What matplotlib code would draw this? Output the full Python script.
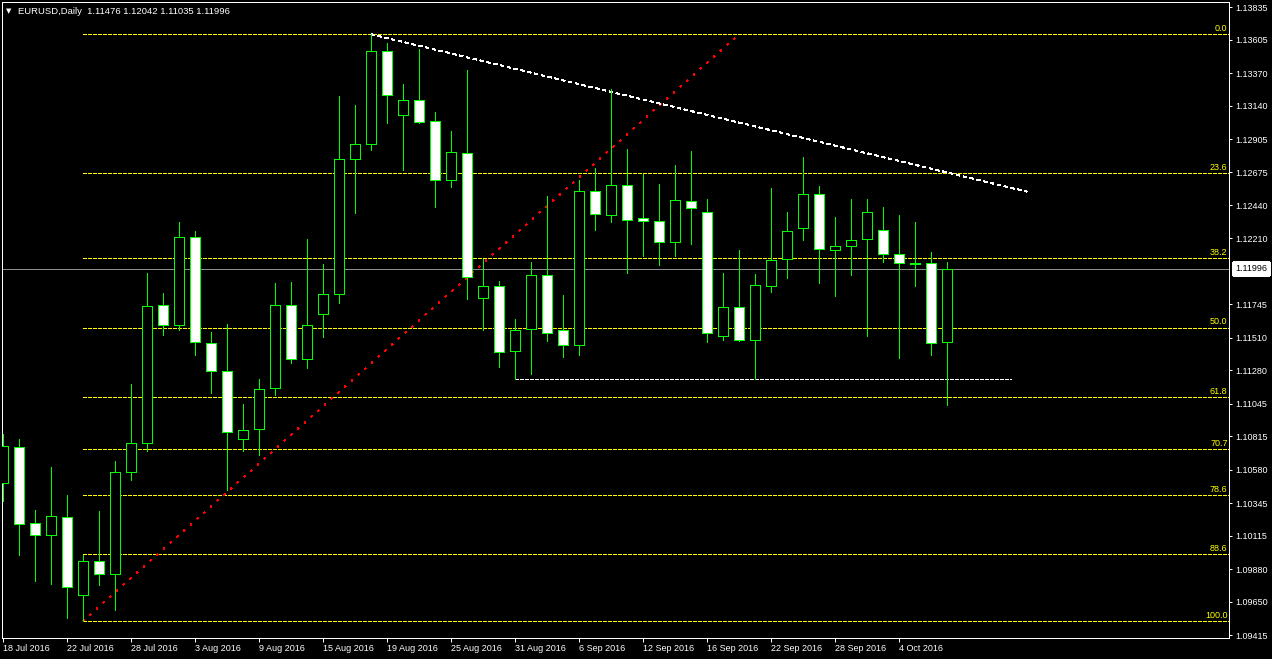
import matplotlib
matplotlib.use('Agg')
import matplotlib.pyplot as plt
import numpy as np
from matplotlib.patches import Rectangle

plt.rcParams['font.family'] = ['Liberation Sans', 'DejaVu Sans']
plt.rcParams['lines.antialiased'] = False
plt.rcParams['patch.antialiased'] = False

# ---------------- data (EURUSD daily, 18 Jul 2016 - 7 Oct 2016) ----------------
opens = [1.10484, 1.10737, 1.10202, 1.10118, 1.10245, 1.09695, 1.09935, 1.09843, 1.10561, 1.10766,
         1.11737, 1.11596, 1.12216, 1.11470, 1.11272, 1.10794, 1.10864, 1.11153, 1.11737, 1.11357,
         1.11674, 1.11815, 1.12765, 1.12871, 1.13525, 1.13075, 1.13180, 1.13032, 1.12617, 1.12807,
         1.11786, 1.11871, 1.11413, 1.11568, 1.11948, 1.11561, 1.11455, 1.12540, 1.12371, 1.12582,
         1.12350, 1.12328, 1.12181, 1.12469, 1.12392, 1.11519, 1.11723, 1.11491, 1.11871, 1.12061,
         1.12279, 1.12519, 1.12124, 1.12152, 1.12202, 1.12265, 1.12096, 1.12033, 1.12033, 1.11476]
highs = [1.10831, 1.10796, 1.10296, 1.10599, 1.10402, 1.09977, 1.10289, 1.10639, 1.11183, 1.11964,
         1.11824, 1.12324, 1.12260, 1.11549, 1.11605, 1.11042, 1.11216, 1.11892, 1.11901, 1.12204,
         1.12028, 1.13211, 1.13147, 1.13645, 1.13584, 1.13295, 1.13541, 1.13098, 1.12964, 1.13394,
         1.12061, 1.11908, 1.11641, 1.12042, 1.12504, 1.11810, 1.12617, 1.12702, 1.13258, 1.12837,
         1.12664, 1.12591, 1.12725, 1.12823, 1.12485, 1.11964, 1.12126, 1.11955, 1.12561, 1.12392,
         1.12779, 1.12575, 1.12357, 1.12483, 1.12483, 1.12427, 1.12371, 1.12324, 1.12110, 1.12042]
lows = [1.10361, 1.09981, 1.09798, 1.09777, 1.09538, 1.09515, 1.09770, 1.09594, 1.10509, 1.10713,
        1.11530, 1.11563, 1.11389, 1.11122, 1.10439, 1.10709, 1.10683, 1.11106, 1.11333, 1.11298,
        1.11516, 1.11755, 1.12389, 1.12828, 1.13023, 1.12692, 1.13018, 1.12431, 1.12572, 1.11784,
        1.11561, 1.11305, 1.11216, 1.11256, 1.11488, 1.11375, 1.11389, 1.12269, 1.12326, 1.11967,
        1.12086, 1.12023, 1.12086, 1.12171, 1.11477, 1.11491, 1.11484, 1.11216, 1.11829, 1.11927,
        1.12195, 1.11892, 1.11800, 1.11948, 1.11519, 1.12040, 1.11364, 1.11876, 1.11385, 1.11035]
closes = [1.10747, 1.10195, 1.10118, 1.10252, 1.09752, 1.09935, 1.09843, 1.10561, 1.10766, 1.11730,
          1.11596, 1.12216, 1.11477, 1.11272, 1.10843, 1.10857, 1.11146, 1.11737, 1.11357, 1.11596,
          1.11815, 1.12765, 1.12871, 1.13525, 1.13215, 1.13180, 1.13025, 1.12617, 1.12814, 1.11934,
          1.11871, 1.11406, 1.11561, 1.11948, 1.11540, 1.11455, 1.12540, 1.12378, 1.12582, 1.12335,
          1.12328, 1.12181, 1.12476, 1.12420, 1.11540, 1.11723, 1.11491, 1.11878, 1.12054, 1.12258,
          1.12519, 1.12131, 1.12152, 1.12195, 1.12392, 1.12096, 1.12033, 1.12030, 1.11470, 1.11996]

x_tick_labels = ["18 Jul 2016", "22 Jul 2016", "28 Jul 2016", "3 Aug 2016", "9 Aug 2016",
                 "15 Aug 2016", "19 Aug 2016", "25 Aug 2016", "31 Aug 2016", "6 Sep 2016",
                 "12 Sep 2016", "16 Sep 2016", "22 Sep 2016", "28 Sep 2016", "4 Oct 2016"]
y_tick_labels = ["1.13835", "1.13605", "1.13370", "1.13140", "1.12905", "1.12675", "1.12440",
                 "1.12210", "1.11745", "1.11510", "1.11280", "1.11045", "1.10815", "1.10580",
                 "1.10345", "1.10115", "1.09880", "1.09650", "1.09415"]

fib_levels = [0.0, 23.6, 38.2, 50.0, 61.8, 70.7, 78.6, 88.6, 100.0]
fib_low, fib_high = 1.09515, 1.13645
fib_bars = [5, 46]
trend_bars = [23, 64]
trend_prices = [1.13645, 1.12537]
support_bars = [32, 63]
support_price = 1.11216
current_price = 1.11996
header = "EURUSD,Daily  1.11476 1.12042 1.11035 1.11996"

# ---------------- figure ----------------
W, H = 1272, 659
fig = plt.figure(figsize=(W / 100, H / 100), dpi=100, facecolor='black')
ax = fig.add_axes([2 / W, 1 - 638 / H, 1227 / W, 636 / H])
ax.set_facecolor('black')
xmin, xmax = (2 - 3) / 16, (1229 - 3) / 16
ax.set_xlim(xmin, xmax)
ax.set_ylim(1.09395, 1.13872)

LIME = '#00ff00'
YEL = '#ffff00'
PX = 0.72  # one pixel in points at 100 dpi

# current price line
ax.axhline(current_price, color='#8c8c8c', lw=PX, zorder=1)

# fibonacci levels
rng = fib_high - fib_low
for lvl in fib_levels:
    p = fib_high - lvl / 100.0 * rng
    ax.plot([fib_bars[0], xmax], [p, p], color=YEL, lw=PX, ls=(0, (4, 2)), zorder=2)
    ax.annotate(f"{lvl:.1f}", xy=(1, p), xycoords=('axes fraction', 'data'),
                xytext=(-1, 0.8), textcoords='offset points', ha='right', va='bottom',
                color=YEL, fontsize=6.5, zorder=6)

# fib diagonal (red dotted)
ax.plot(fib_bars, [fib_low, fib_high], color='#ff0000', lw=PX, ls=(0, (1.5, 7)), zorder=2)

# trendline (white dotted)
ax.plot(trend_bars, trend_prices, color='white', lw=PX, ls=(0, (3, 3.5)), zorder=2)

# support line (white dashed)
ax.plot(support_bars, [support_price, support_price], color='white', lw=PX,
        ls=(0, (4, 2)), zorder=2)

# candles
x = np.arange(len(opens))
ax.vlines(x, lows, highs, color=LIME, lw=PX, zorder=3, antialiased=False)
bw = 0.6
for i in range(len(opens)):
    o, c = opens[i], closes[i]
    bottom = min(o, c)
    h = abs(c - o)
    fc = 'black' if c >= o else 'white'
    ax.add_patch(Rectangle((x[i] - bw / 2, bottom), bw, h, facecolor=fc,
                           edgecolor=LIME, lw=PX, zorder=4))

# spines
for s in ax.spines.values():
    s.set_color('white')
    s.set_linewidth(PX)

# y axis on right
ax.set_yticks([float(t) for t in y_tick_labels])
ax.set_yticklabels(y_tick_labels)
ax.tick_params(axis='y', left=False, right=True, labelleft=False, labelright=True,
               colors='white', length=2.5, width=PX, pad=2, labelsize=6.5, direction='out')

# x axis
ax.set_xticks(np.arange(0, 4 * len(x_tick_labels), 4))
ax.set_xticklabels(x_tick_labels, ha='left')
ax.tick_params(axis='x', colors='white', length=3, width=PX, pad=1, labelsize=6.5,
               direction='out')

# current price label
ax.annotate(f"{current_price:.5f}", xy=(1, current_price), xycoords=('axes fraction', 'data'),
            xytext=(4.3, 0), textcoords='offset points', ha='left', va='center',
            color='black', fontsize=6.5, annotation_clip=False, zorder=10,
            bbox=dict(boxstyle='square,pad=0.2', fc='white', ec='white'))

# header
fig.text(6 / W, 1 - 11 / H, '\u25bc', color='white', fontsize=5, family='DejaVu Sans',
         va='center', ha='left')
fig.text(18 / W, 1 - 11 / H, header, color='white', fontsize=6.8, va='center', ha='left')

fig.savefig('out.png', dpi=100, facecolor='black')
